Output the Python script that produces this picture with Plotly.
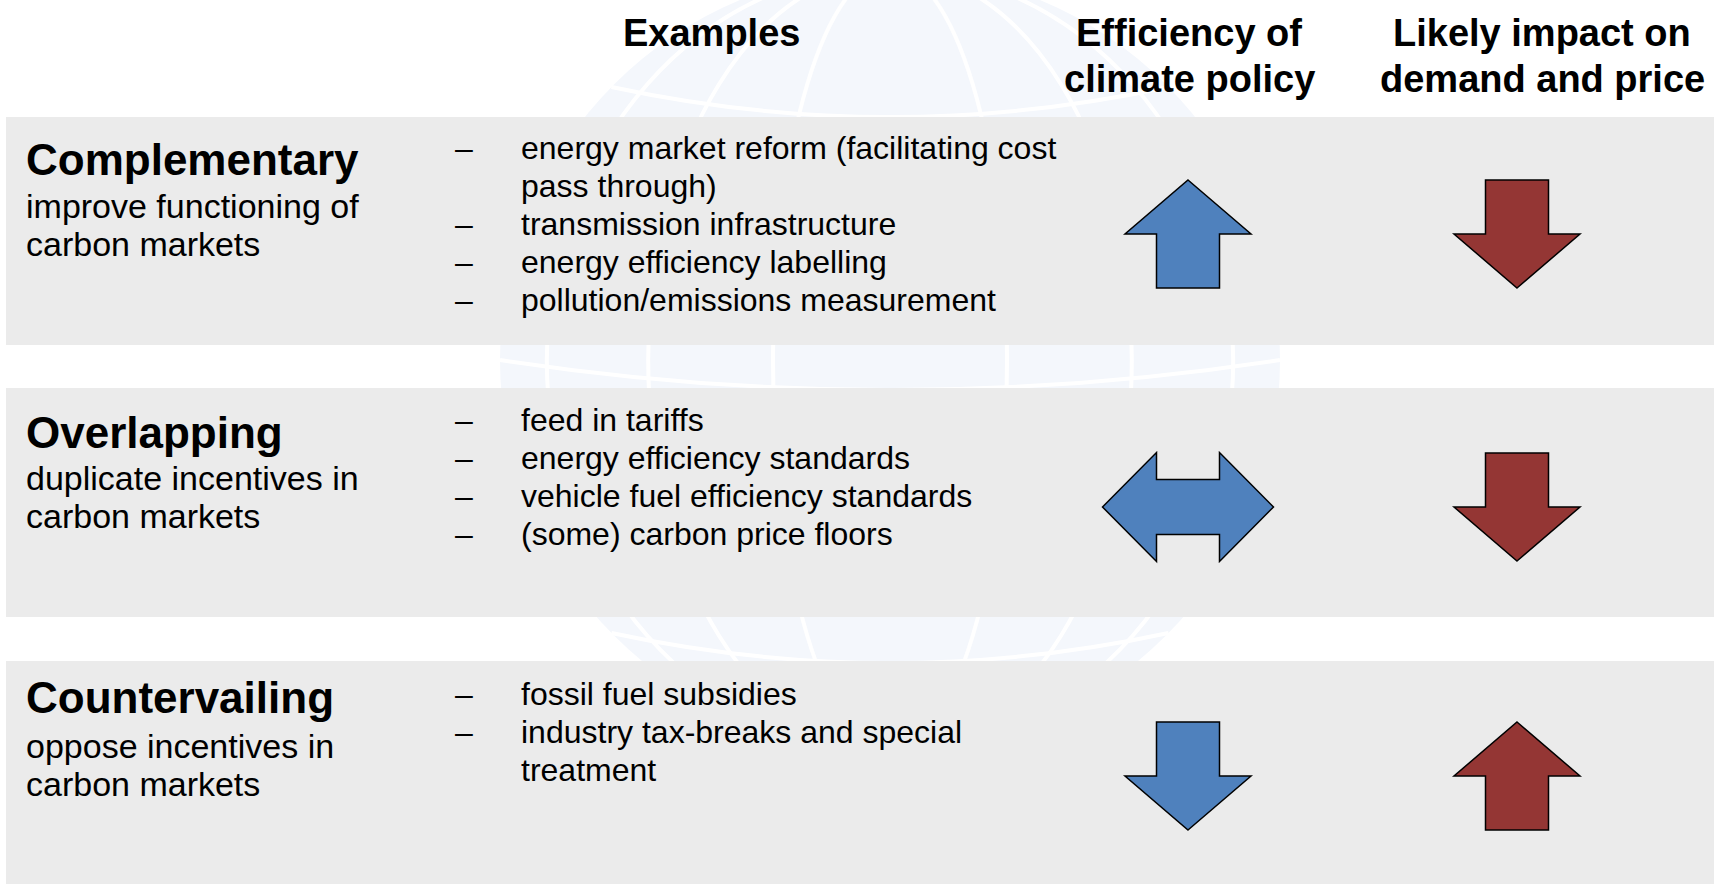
import plotly.graph_objects as go

# ---------------- data ----------------
headers = [["Examples"], ["Efficiency of", "climate policy"], ["Likely impact on", "demand and price"]]
categories = ["Complementary", "Overlapping", "Countervailing"]
descriptions = [
    ["improve functioning of", "carbon markets"],
    ["duplicate incentives in", "carbon markets"],
    ["oppose incentives in", "carbon markets"],
]
examples = [
    [["energy market reform (facilitating cost", "pass through)"],
     ["transmission infrastructure"],
     ["energy efficiency labelling"],
     ["pollution/emissions measurement"]],
    [["feed in tariffs"],
     ["energy efficiency standards"],
     ["vehicle fuel efficiency standards"],
     ["(some) carbon price floors"]],
    [["fossil fuel subsidies"],
     ["industry tax-breaks and special", "treatment"]],
]
efficiency_effect = ["up", "both", "down"]
price_effect = ["down", "down", "up"]

# ---------------- layout constants ----------------
W, H = 1716, 884
FONT = "Liberation Sans, Arial, sans-serif"
panel_y = [(117, 345), (388, 617), (661, 884)]
title_y = [159, 432, 697]
desc_y0 = [206, 478, 746]
ex_y0 = [148, 420, 694]
arrow_cy = [234, 507, 776]
col_eff_x = 1188
col_price_x = 1517
BLUE = "#4F81BD"
RED = "#943634"
GRAY = "#EBEBEB"

fig = go.Figure()
fig.add_trace(go.Scatter(x=[0, W], y=[0, H], mode="markers",
                         marker=dict(opacity=0), hoverinfo="skip", showlegend=False))

shapes = []
# faint globe watermark
gcx, gcy, R = 890, 360, 390
shapes.append(dict(type="circle", x0=gcx - R, x1=gcx + R, y0=gcy - R, y1=gcy + R,
                   fillcolor="#F4F7FC", line=dict(width=0), layer="below"))
for f in [0.3, 0.62, 0.88]:
    shapes.append(dict(type="circle", x0=gcx - R * f, x1=gcx + R * f, y0=gcy - R, y1=gcy + R,
                       fillcolor="rgba(0,0,0,0)", line=dict(color="white", width=4), layer="below"))
for f in [-0.7, -0.35, 0.0, 0.35, 0.7]:
    yy = gcy + R * f
    half = (R ** 2 - (R * f) ** 2) ** 0.5
    shapes.append(dict(type="path",
                       path=f"M {gcx-half},{yy} Q {gcx},{yy+60} {gcx+half},{yy}",
                       line=dict(color="white", width=4), layer="below"))

# panels
for (y0, y1) in panel_y:
    shapes.append(dict(type="rect", x0=6, x1=1714, y0=y0, y1=y1,
                       fillcolor=GRAY, line=dict(width=0), layer="above"))


def vert_arrow(cx, cy, up, color):
    h, hh, hw, sw = 108, 54, 63, 31.5
    s = -1 if up else 1
    tip = cy + s * h / 2
    base = cy - s * h / 2
    sh = tip - s * hh
    pts = [(cx, tip), (cx + hw, sh), (cx + sw, sh), (cx + sw, base),
           (cx - sw, base), (cx - sw, sh), (cx - hw, sh)]
    p = "M " + " L ".join(f"{x},{y}" for x, y in pts) + " Z"
    return dict(type="path", path=p, fillcolor=color, line=dict(color="black", width=1.5), layer="above")


def double_arrow(cx, cy, color):
    Wd, Hd, sw, th = 171, 109, 31.5, 27.5
    pts = [(cx - Wd / 2, cy), (cx - sw, cy - Hd / 2), (cx - sw, cy - th), (cx + sw, cy - th),
           (cx + sw, cy - Hd / 2), (cx + Wd / 2, cy), (cx + sw, cy + Hd / 2), (cx + sw, cy + th),
           (cx - sw, cy + th), (cx - sw, cy + Hd / 2)]
    p = "M " + " L ".join(f"{x},{y}" for x, y in pts) + " Z"
    return dict(type="path", path=p, fillcolor=color, line=dict(color="black", width=1.5), layer="above")


for i in range(len(categories)):
    e = efficiency_effect[i]
    if e == "both":
        shapes.append(double_arrow(col_eff_x, arrow_cy[i], BLUE))
    else:
        shapes.append(vert_arrow(col_eff_x, arrow_cy[i], e == "up", BLUE))
    shapes.append(vert_arrow(col_price_x, arrow_cy[i], price_effect[i] == "up", RED))

ann = []
# headers
header_x = [711, 1189, 1542]
header_line_y = [33, 79]
for hx, lines in zip(header_x, headers):
    for j, t in enumerate(lines):
        ann.append(dict(x=hx, y=header_line_y[j], text=f"<b>{t}</b>", xanchor="center", yanchor="middle",
                        font=dict(family=FONT, size=38, color="black")))

for i, cat in enumerate(categories):
    ann.append(dict(x=24, y=title_y[i], text=f"<b>{cat}</b>", xanchor="left", yanchor="middle",
                    font=dict(family=FONT, size=44, color="black")))
    for j, line in enumerate(descriptions[i]):
        ann.append(dict(x=24, y=desc_y0[i] + 38 * j, text=line, xanchor="left", yanchor="middle",
                        font=dict(family=FONT, size=34, color="black")))
    k = 0
    for item in examples[i]:
        ann.append(dict(x=464, y=ex_y0[i] + 38 * k, text="–", xanchor="center", yanchor="middle",
                        font=dict(family=FONT, size=32, color="black")))
        for line in item:
            ann.append(dict(x=519, y=ex_y0[i] + 38 * k, text=line, xanchor="left", yanchor="middle",
                            font=dict(family=FONT, size=32, color="black")))
            k += 1

for a in ann:
    a.update(xref="x", yref="y", showarrow=False)

fig.update_layout(
    width=W, height=H, margin=dict(l=0, r=0, t=0, b=0),
    paper_bgcolor="white", plot_bgcolor="white",
    xaxis=dict(range=[0, W], visible=False, fixedrange=True),
    yaxis=dict(range=[H, 0], visible=False, fixedrange=True),
    shapes=shapes, annotations=ann, showlegend=False,
)
fig.write_html("out.html", config={"displayModeBar": False},
               post_script="document.body.style.margin='0';document.body.style.overflow='hidden';")
